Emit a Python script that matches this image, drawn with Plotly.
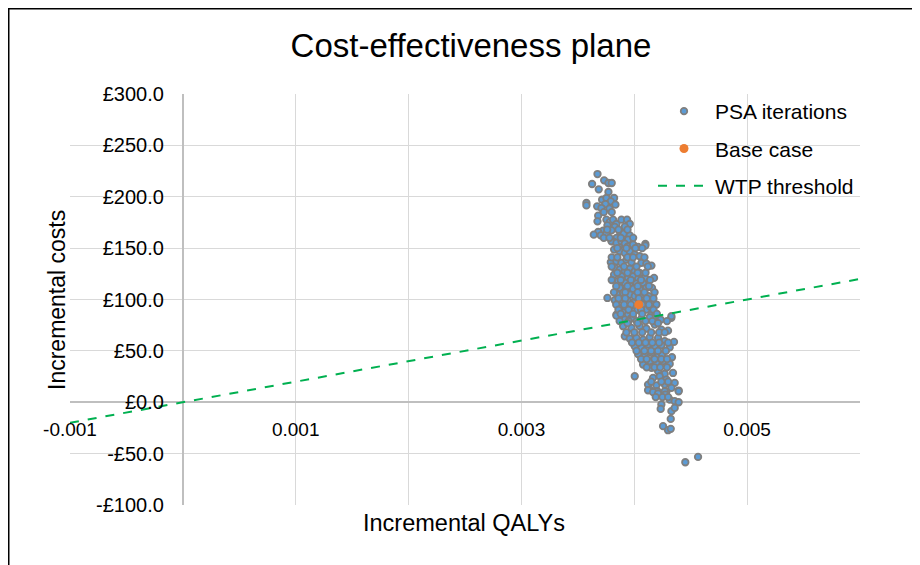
import plotly.graph_objects as go

# PSA iterations: incremental QALYs (x 1e-3) and incremental costs (£)
psa_qaly_e3 = [
    3.674, 3.626, 3.733, 3.771, 3.800, 3.685, 3.771, 3.576, 3.576, 3.715,
    3.753, 3.821, 3.792, 3.744, 3.671, 3.709, 3.780, 3.833, 3.680, 3.674,
    3.753, 3.783, 3.812, 3.842, 3.886, 3.936, 3.960, 3.916, 3.762, 3.827,
    3.798, 3.724, 3.680, 3.641, 3.703, 3.753, 3.871, 3.907, 3.960, 3.842,
    3.812, 3.916, 3.989, 4.098, 3.886, 3.945,
    3.798, 3.842, 3.886, 3.916, 3.945, 3.989, 4.034, 4.098, 3.821, 3.871,
    3.916, 3.960, 4.004, 4.048, 3.792, 3.842, 3.886, 3.930, 3.975, 4.063,
    4.107, 4.152, 3.827, 3.871, 3.916, 3.960, 4.004, 4.048, 3.821, 3.886,
    3.945, 3.989, 4.034, 4.093, 4.175, 3.857, 3.916, 3.960, 4.019, 4.078,
    3.871, 3.930, 3.989, 4.048, 4.107, 4.157, 3.851, 3.901, 3.960, 4.004,
    4.063, 4.128, 3.762, 3.827, 3.886, 3.945, 3.989, 4.093, 4.152, 4.196,
    3.842, 3.901, 3.945, 3.975, 4.107, 4.152, 4.181, 4.328, 3.871, 3.916,
    4.137, 3.989,
    3.842, 3.916, 3.989, 4.063, 4.137, 4.234, 4.329, 3.901, 3.975, 4.048,
    4.107, 4.181, 4.240, 4.299, 3.916, 3.960, 4.019, 4.078, 4.137, 4.211,
    4.270, 4.352, 4.004, 4.063, 4.122, 4.181, 4.240, 4.314, 4.034, 4.093,
    4.152, 4.211, 4.246, 4.334, 4.078, 4.137, 4.196, 4.255, 4.314, 4.004,
    4.152, 4.211, 4.270, 4.343, 4.166, 4.225, 4.284, 4.358, 4.122, 4.196,
    4.270, 4.329, 4.137, 4.205, 4.284, 4.393,
    4.122, 4.166, 4.211, 4.270, 4.275, 4.314, 4.358, 4.393, 4.393, 4.240,
    4.234, 4.329, 4.358, 4.323, 4.255, 4.299, 4.323, 4.452, 4.565,
    # denser core
    3.73, 3.80, 3.76, 3.86, 3.94, 3.73, 3.78, 3.88, 3.99,
    3.85, 3.93, 4.01, 4.07, 3.80, 3.85, 3.94, 3.99, 4.09,
    3.80, 3.91, 4.02, 4.12, 3.85, 3.94, 4.03, 4.10,
    3.80, 3.88, 3.97, 4.06, 4.14, 3.84, 3.94, 4.03, 4.13,
    3.82, 3.92, 4.03, 4.09, 4.18, 3.86, 3.92, 4.04, 4.11, 4.17,
    3.84, 3.91, 3.97, 4.07, 4.13, 3.86, 3.95, 4.03, 4.06, 4.17,
    3.88, 3.99, 4.07, 4.20, 3.87, 3.95, 4.02, 4.10, 4.16, 4.29,
    3.94, 4.03, 4.21, 3.93, 4.00, 4.07, 4.15, 4.22, 4.27,
    3.98, 4.04, 4.10, 4.16, 4.22, 4.30, 4.02, 4.09, 4.15, 4.21, 4.28,
    4.06, 4.11, 4.18, 4.24, 4.29, 4.11, 4.18, 4.23, 4.29,
    4.15, 4.24, 4.30, 4.19, 4.25, 4.30,
]
psa_cost = [
    222.1, 212.4, 216.0, 213.4, 213.4, 207.2, 204.6, 193.9, 191.6, 197.1,
    198.8, 198.8, 195.5, 192.9, 190.7, 189.0, 188.4, 192.3, 181.6, 176.1,
    177.7, 175.4, 177.7, 173.5, 177.7, 177.7, 173.5, 170.9, 172.2, 170.6,
    167.3, 167.0, 165.7, 163.1, 162.4, 164.1, 166.3, 164.1, 162.4, 159.9,
    156.6, 156.6, 153.4, 154.0, 154.0, 158.2,
    156.7, 155.1, 156.7, 154.4, 151.8, 153.4, 151.2, 152.5, 148.6, 147.0,
    145.3, 147.0, 143.7, 142.1, 136.2, 137.2, 135.6, 138.8, 136.2, 135.6,
    134.9, 133.0, 130.7, 129.1, 127.5, 129.8, 127.5, 125.9, 124.2, 122.6,
    121.0, 122.6, 120.0, 121.0, 121.0, 117.8, 116.1, 114.5, 115.5, 116.1,
    111.3, 109.7, 110.3, 109.7, 111.3, 111.3, 104.8, 106.4, 104.8, 103.2,
    104.8, 103.2, 101.5, 99.3, 99.9, 98.3, 96.7, 97.3, 98.3, 95.1,
    85.3, 88.6, 85.3, 82.1, 90.2, 85.3, 83.7, 82.1, 91.8, 93.4,
    93.4, 88.6,
    84.3, 80.4, 82.1, 81.4, 82.7, 80.4, 83.7, 74.0, 72.3, 74.0,
    71.7, 75.6, 70.7, 69.7, 64.2, 62.0, 62.6, 61.0, 63.3, 62.6,
    59.4, 58.7, 54.5, 52.9, 56.1, 54.5, 55.5, 53.5, 47.0, 44.8,
    48.0, 44.8, 46.4, 43.8, 36.7, 39.9, 38.3, 39.9, 37.3, 25.3,
    33.4, 30.2, 27.6, 28.5, 23.7, 25.3, 22.1, 18.8, 17.2, 16.5,
    17.2, 14.0, 12.3, 10.7, 10.1, 11.4,
    11.7, 9.8, 8.5, 10.7, 7.5, 2.6, 1.0, 0.0, 10.7, -2.2,
    -6.5, -8.7, -5.5, -16.2, -23.3, -27.2, -25.9, -58.4, -53.2,
    # denser core
    185, 185, 168, 168, 168, 160, 160, 160, 160,
    150, 150, 150, 150, 141, 141, 141, 141, 141,
    132, 132, 132, 132, 126, 126, 126, 126,
    119, 119, 119, 119, 119, 113, 113, 113, 113,
    107, 107, 107, 107, 107, 101, 101, 101, 101, 101,
    95, 95, 95, 95, 95, 90, 90, 90, 90, 90,
    86, 86, 86, 86, 79, 79, 79, 79, 79, 79,
    77, 77, 77, 68, 68, 68, 68, 68, 68,
    58, 58, 58, 58, 58, 58, 50, 50, 50, 50, 50,
    42, 42, 42, 42, 42, 34, 34, 34, 34,
    20, 20, 20, 5, 5, 5,
]
psa_qaly = [v / 1000 for v in psa_qaly_e3]

base_qaly = [0.00404]
base_cost = [95.0]

wtp_qaly = [-0.001, 0.006]
wtp_cost = [-20.0, 120.0]

x_tickvals = [-0.001, 0.0, 0.001, 0.002, 0.003, 0.004, 0.005, 0.006]
x_ticktext = ["-0.001", "", "0.001", "", "0.003", "", "0.005", ""]
y_tickvals = [-100, -50, 0, 50, 100, 150, 200, 250, 300]
y_ticktext = ["-£100.0", "-£50.0", "£0.0", "£50.0", "£100.0", "£150.0",
              "£200.0", "£250.0", "£300.0"]

FONT = "Liberation Sans, Arial, sans-serif"
W, H = 920, 565
OFF = 8  # page offset of the figure inside the window
PL, PR, PT, PB = 70, 860, 94, 505  # wanted plot-area edges in window pixels
ML = PL - OFF
MT = PT - OFF
PW, PH = PR - PL, PB - PT
MR = W - ML - PW
MB = H - MT - PH


def px_x(p):
    return (p - OFF - ML) / PW


def px_y(p):
    return (MT + PH - (p - OFF)) / PH


fig = go.Figure()
fig.add_trace(go.Scatter(
    x=psa_qaly, y=psa_cost, mode="markers", name="PSA iterations",
    legendgroup="a",
    marker=dict(size=6.5, color="#5b9bd5", line=dict(color="#7f7f7f", width=1.8)),
))
fig.add_trace(go.Scatter(
    x=base_qaly, y=base_cost, mode="markers", name="Base case",
    legendgroup="b",
    marker=dict(size=9, color="#ed7d31"),
))
fig.add_trace(go.Scatter(
    x=wtp_qaly, y=wtp_cost, mode="lines", name="WTP threshold",
    legendgroup="c",
    line=dict(color="#00b050", width=2, dash="dash"),
))

fig.update_layout(
    width=W, height=H,
    margin=dict(l=ML, r=MR, t=MT, b=MB),
    paper_bgcolor="white", plot_bgcolor="white",
    font=dict(family=FONT, size=20, color="#000000"),
    title=dict(text="Cost-effectiveness plane", x=(471 - OFF) / W, xanchor="center",
               y=1 - (45 - OFF) / H, yanchor="middle", yref="container",
               font=dict(size=33, family=FONT, color="#000000")),
    xaxis=dict(range=[-0.001, 0.006], tickvals=x_tickvals, ticktext=x_ticktext,
               showgrid=True, gridcolor="#d9d9d9", gridwidth=1.4,
               zeroline=True, zerolinecolor="#bfbfbf", zerolinewidth=1.6,
               anchor="free", position=0.25, showline=False, ticks="",
               ticklabelstandoff=14, tickfont=dict(size=19)),
    yaxis=dict(range=[-100, 300], tickvals=y_tickvals, ticktext=y_ticktext,
               showgrid=True, gridcolor="#d9d9d9", gridwidth=1.4,
               zeroline=True, zerolinecolor="#bfbfbf", zerolinewidth=1.6,
               anchor="free", position=1 / 7, showline=False, ticks="",
               ticklabelstandoff=19, tickfont=dict(size=20)),
    legend=dict(x=px_x(653), y=px_y(91), xanchor="left", yanchor="top",
                bgcolor="rgba(0,0,0,0)", font=dict(size=21, family=FONT),
                tracegroupgap=7, itemwidth=52),
    showlegend=True,
    annotations=[
        dict(text="Incremental costs", x=px_x(57), y=px_y(300), xref="paper",
             yref="paper", showarrow=False, textangle=-90,
             font=dict(size=23, family=FONT), xanchor="center", yanchor="middle"),
        dict(text="Incremental QALYs", x=px_x(464), y=px_y(523), xref="paper",
             yref="paper", showarrow=False,
             font=dict(size=23.5, family=FONT), xanchor="center", yanchor="middle"),
    ],
    shapes=[
        dict(type="rect", xref="paper", yref="paper",
             x0=px_x(OFF + 0.75), x1=px_x(W + 30), y0=px_y(H + 30),
             y1=px_y(OFF + 0.75),
             line=dict(color="#000000", width=1.5), fillcolor="rgba(0,0,0,0)",
             layer="above"),
    ],
)

fig.write_html("out.html")
